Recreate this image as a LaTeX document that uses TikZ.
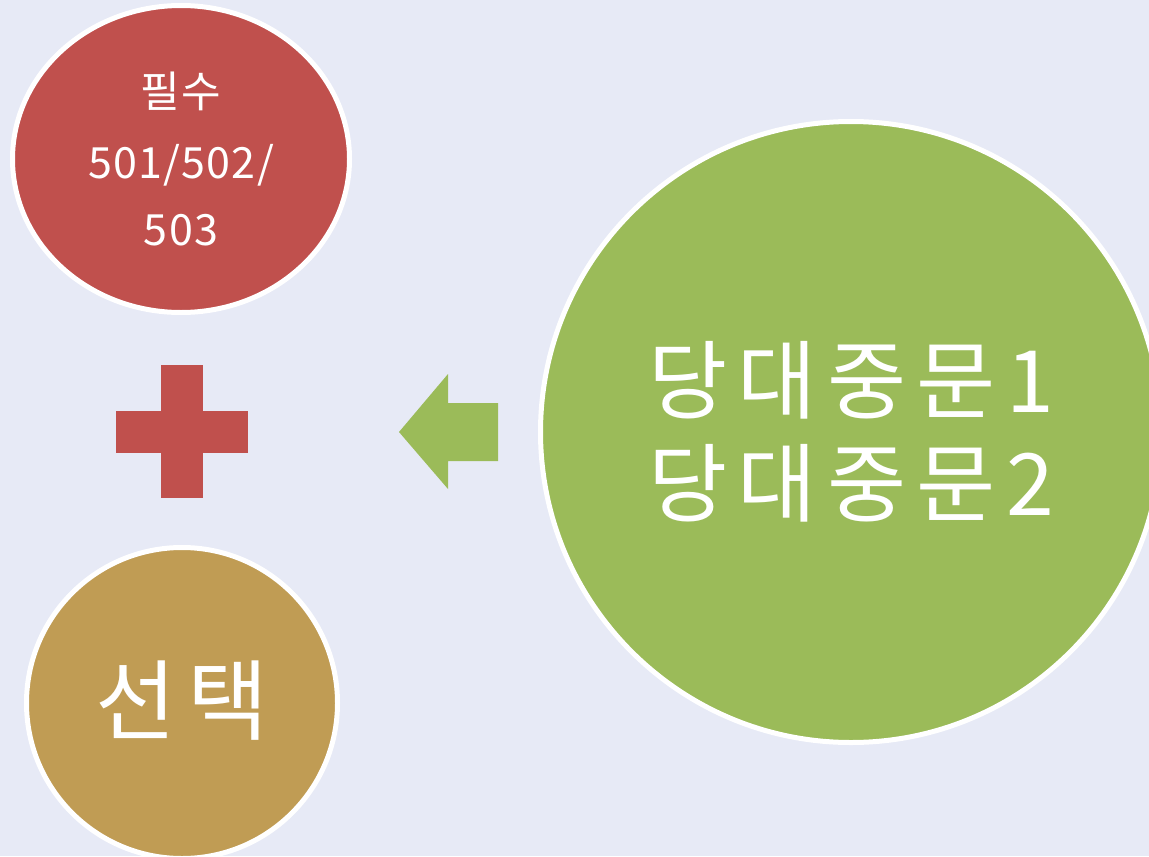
\documentclass[tikz,border=0pt]{standalone}
\usepackage{fontspec}
\newfontfamily\cjk{Noto Sans CJK KR}
\usetikzlibrary{
  shapes.geometric,
  positioning,
}
\definecolor{bgblue}{HTML}{E7EAF6}
\definecolor{mustred}{HTML}{C0504D}
\definecolor{pickgold}{HTML}{C09C54}
\definecolor{greekgreen}{HTML}{9BBB59}

\begin{document}
\begin{tikzpicture}[x=0.5pt,y=-0.5pt,
  bubble/.style={draw=white, line width=2.5pt, text=white, align=center, inner sep=0pt},
]
\useasboundingbox (0,0) rectangle (1149,856);
\clip (0,0) rectangle (1149,856);
\fill[bgblue] (0,0) rectangle (1149,856);
% circles
\node[bubble, ellipse, fill=mustred, minimum width=168.5pt, minimum height=153.5pt,
  font=\cjk\fontsize{21.5}{33.5}\selectfont\addfontfeature{LetterSpace=3}] (must) at (181,159)
  {\raisebox{2pt}{필수}\\501/502/\\503};
\node[bubble, circle, fill=pickgold, minimum size=155.5pt,
  font=\cjk\fontsize{44}{50}\selectfont] (pick) at (182,703) {\raisebox{5.5pt}{선\hspace{6pt}택}};
\node[bubble, circle, fill=greekgreen, minimum size=310.5pt,
  font=\cjk\fontsize{43}{51.5}\selectfont\addfontfeature{LetterSpace=12}] (greek) at (851,432)
  {당대중문1\\당대중문2};
% plus and arrow
\fill[mustred] (161,365) rectangle (203,498);
\fill[mustred] (116,411) rectangle (248,453);
\fill[greekgreen] (399,432) -- (448,374) -- (448,403) -- (498,403)
  -- (498,461) -- (448,461) -- (448,489) -- cycle;
\end{tikzpicture}
\end{document}
